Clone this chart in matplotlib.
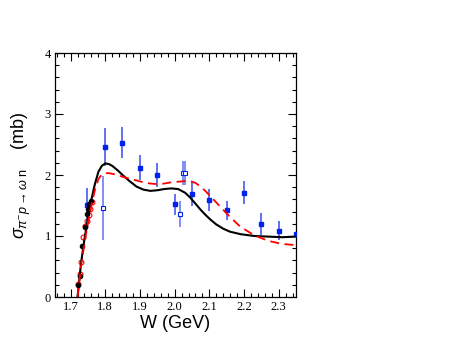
import numpy as np
import matplotlib
matplotlib.use("Agg")
import matplotlib.pyplot as plt
from matplotlib.ticker import MultipleLocator

# model curves
w_curve = [1.720, 1.730, 1.740, 1.750, 1.760, 1.770, 1.780, 1.790, 1.800, 1.810,
           1.820, 1.835, 1.850, 1.870, 1.890, 1.910, 1.930, 1.950, 1.970, 1.990,
           2.010, 2.030, 2.045, 2.060, 2.075, 2.090, 2.105, 2.120, 2.140, 2.160,
           2.190, 2.230, 2.270, 2.310, 2.350]
sig_black = [0.00, 0.55, 0.95, 1.30, 1.60, 1.85, 2.05, 2.15, 2.19, 2.18,
             2.15, 2.08, 2.00, 1.90, 1.81, 1.76, 1.74, 1.75, 1.77, 1.78,
             1.77, 1.71, 1.63, 1.53, 1.43, 1.34, 1.26, 1.19, 1.12, 1.07,
             1.03, 1.00, 0.99, 0.98, 0.99]
sig_red = [0.00, 0.50, 0.88, 1.22, 1.50, 1.75, 1.93, 2.01, 2.03, 2.03,
           2.02, 2.00, 1.97, 1.94, 1.91, 1.88, 1.86, 1.85, 1.86, 1.88,
           1.89, 1.90, 1.90, 1.87, 1.81, 1.73, 1.64, 1.55, 1.43, 1.31,
           1.15, 1.01, 0.92, 0.87, 0.85]

# data
w_black = [1.722, 1.726, 1.733, 1.741, 1.746, 1.750, 1.754, 1.758]
s_black = [0.20, 0.35, 0.84, 1.14, 1.36, 1.45, 1.52, 1.57]

w_red = [1.722, 1.726, 1.731, 1.736, 1.741, 1.746, 1.752, 1.757, 1.762]
s_red = [0.21, 0.38, 0.58, 0.99, 1.16, 1.24, 1.34, 1.44, 1.56]

w_blue = [1.748, 1.799, 1.849, 1.900, 1.949, 2.000, 2.050, 2.100, 2.150,
          2.200, 2.250, 2.300, 2.350]
s_blue = [1.51, 2.46, 2.53, 2.12, 2.00, 1.52, 1.69, 1.59, 1.42,
          1.71, 1.20, 1.09, 1.04]
e_blue = [0.27, 0.31, 0.25, 0.20, 0.19, 0.17, 0.19, 0.18, 0.16,
          0.19, 0.18, 0.16, 0.03]

w_open = [1.794, 2.016, 2.024, 2.031]
s_open = [1.46, 1.36, 2.03, 2.03]
e_open = [0.52, 0.22, 0.20, 0.20]

plt.rcParams['font.family'] = ['Liberation Serif', 'DejaVu Serif']
plt.rcParams['mathtext.fontset'] = 'custom'
plt.rcParams['mathtext.rm'] = 'Liberation Sans'
plt.rcParams['mathtext.it'] = 'Liberation Sans:italic'

fig = plt.figure(figsize=(4.51, 3.49), dpi=100)
ax = fig.add_axes([55 / 451, 1 - 297 / 349, 241 / 451, 244 / 349])

ax.errorbar(w_blue, s_blue, yerr=e_blue, fmt='s', color='#0022ee', ms=3.5,
            ecolor='#5566ee', elinewidth=1.3, capsize=0, zorder=3)
ax.errorbar(w_open, s_open, yerr=e_open, fmt='s', mfc='white', mec='#0022ee',
            mew=0.8, ms=3.5, ecolor='#7788f0', elinewidth=1.3, capsize=0, zorder=3)
ax.plot(w_red, s_red, 'o', mfc='none', mec='red', mew=0.8, ms=3.5, zorder=4)
ax.plot(w_black, s_black, 'o', color='black', ms=3, zorder=4)

ax.plot(w_curve, sig_black, color='black', lw=1.5, zorder=5)
ax.plot(w_curve, sig_red, color='red', lw=1.3, ls=(0, (5, 3)), zorder=5)

ax.set_xlim(1.655, 2.35)
ax.set_ylim(0, 4)
ax.xaxis.set_major_locator(MultipleLocator(0.1))
ax.xaxis.set_minor_locator(MultipleLocator(0.02))
ax.yaxis.set_major_locator(MultipleLocator(1))
ax.yaxis.set_minor_locator(MultipleLocator(0.2))
ax.tick_params(which='both', direction='in', top=True, right=True,
               labelsize=9, width=0.8, pad=3)
ax.tick_params(which='major', length=6)
ax.tick_params(which='minor', length=3)
ax.set_xticks([1.7, 1.8, 1.9, 2.0, 2.1, 2.2, 2.3])
ax.set_xticklabels(['1.7', '1.8', '1.9', '2.0', '2.1', '2.2', '2.3'])
for s in ax.spines.values():
    s.set_linewidth(0.9)

ax.set_xlabel('W (GeV)', family='Liberation Sans', fontsize=13, labelpad=1)
ax.set_ylabel(r'$\sigma_{\pi^{-}p\rightarrow\omega\ \mathrm{n}}$    (mb)',
              family='Liberation Sans', fontsize=13, labelpad=8)

fig.savefig('out.png', dpi=100)
